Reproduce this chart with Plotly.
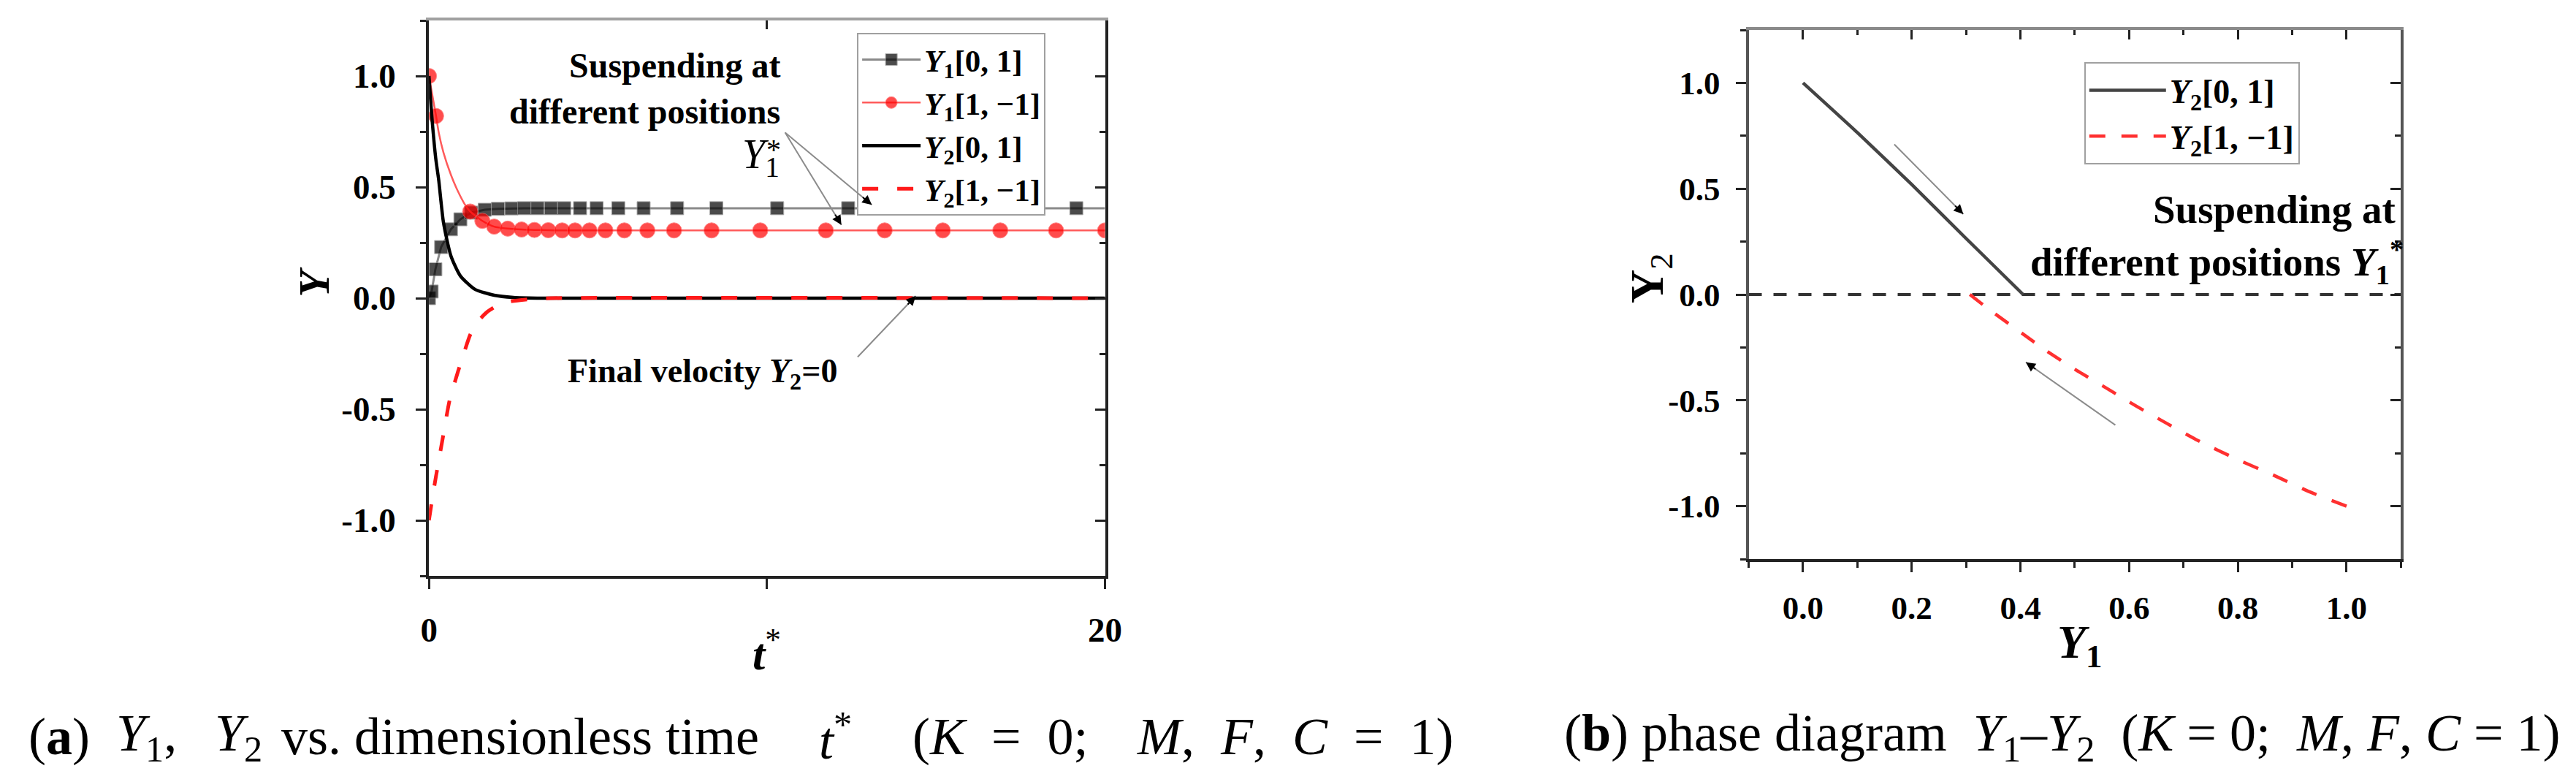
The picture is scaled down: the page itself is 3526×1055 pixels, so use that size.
import plotly.graph_objects as go

W, H = 3526, 1055
SERIF = "Liberation Serif"

# ---------------- panel (a): Y1, Y2 vs dimensionless time t* ----------------
# Y1[0,1]  (black squares on a grey line)
T_Y1_01 = [0, 0.08, 0.19, 0.36, 0.65, 0.93, 1.25, 1.65, 2.04, 2.44, 2.82, 3.21, 3.61,
           4.0, 4.47, 4.96, 5.6, 6.35, 7.34, 8.5, 10.3, 12.4, 13.9, 15.3, 17.1, 19.15]
Y1_01 = [0.0, 0.03, 0.13, 0.23, 0.31, 0.355, 0.385, 0.398, 0.402, 0.404, 0.405, 0.405, 0.405,
         0.405, 0.405, 0.405, 0.405, 0.405, 0.405, 0.405, 0.405, 0.405, 0.405, 0.405, 0.405, 0.405]
T_Y1_01_LINE = [20.0]          # line runs on past the last marker
Y1_01_LINE = [0.405]

# Y1[1,-1]  (red circles on a thin red line)
T_Y1_10 = [0, 0.21, 1.22, 1.58, 1.93, 2.33, 2.74, 3.12, 3.53, 3.94, 4.32, 4.75, 5.22, 5.78,
           6.46, 7.25, 8.36, 9.8, 11.74, 13.48, 15.2, 16.9, 18.55, 20.0]
Y1_10 = [1.0, 0.82, 0.39, 0.348, 0.322, 0.313, 0.309, 0.307, 0.306, 0.305, 0.305, 0.305, 0.305,
         0.305, 0.305, 0.305, 0.305, 0.305, 0.305, 0.305, 0.305, 0.305, 0.305, 0.305]
T_Y1_10_LINE = [0.29, 0.43, 0.65, 0.86, 1.05]   # where the line bends between markers
Y1_10_LINE = [0.745, 0.655, 0.555, 0.48, 0.425]

# Y2[0,1]  (solid black)
T_Y2_01 = [0, 0.05, 0.1, 0.2, 0.29, 0.43, 0.65, 0.93, 1.36, 1.93, 2.5, 3.2, 20.0]
Y2_01 = [1.0, 0.89, 0.79, 0.63, 0.53, 0.34, 0.19, 0.1, 0.04, 0.013, 0.003, 0.0, 0.0]

# Y2[1,-1]  (red dashed)
T_Y2_10 = [0, 0.1, 0.21, 0.42, 0.61, 0.86, 1.05, 1.22, 1.45, 1.7, 2.0, 2.4, 3.0, 3.6, 20.0]
Y2_10 = [-1.0, -0.9, -0.8, -0.62, -0.46, -0.33, -0.24, -0.165, -0.105, -0.065, -0.035,
         -0.015, -0.004, 0.0, 0.0]

# ---------------- panel (b): phase diagram Y1-Y2 ----------------
PH_Y1_01 = [0.0, 0.1, 0.2, 0.3, 0.405]
PH_Y2_01 = [1.0, 0.765, 0.52, 0.265, 0.0]
PH_Y1_10 = [0.307, 0.35, 0.404, 0.45, 0.502, 0.56, 0.613, 0.67, 0.723, 0.8, 0.867, 0.93, 1.0]
PH_Y2_10 = [0.0, -0.085, -0.185, -0.27, -0.356, -0.445, -0.527, -0.61, -0.685, -0.78,
            -0.855, -0.93, -1.0]

# ---------------- ticks ----------------
A_XTICKS = [0, 10, 20]
A_XTEXT = ["0", "", "20"]
Y_TICKS = [-1.0, -0.5, 0.0, 0.5, 1.0]
Y_TEXT = ["-1.0", "-0.5", "0.0", "0.5", "1.0"]
Y_MINOR = [-1.25, -0.75, -0.25, 0.25, 0.75, 1.25]
B_XTICKS = [0.0, 0.2, 0.4, 0.6, 0.8, 1.0]
B_XTEXT = ["0.0", "0.2", "0.4", "0.6", "0.8", "1.0"]
B_XMINOR = [-0.1, 0.1, 0.3, 0.5, 0.7, 0.9, 1.1]


def dom_x(left, right):
    return [left / W, right / W]


def dom_y(top, bottom):
    return [1 - bottom / H, 1 - top / H]


def merge(t_mark, v_mark, t_line, v_line, size):
    pts = [(t, v, size) for t, v in zip(t_mark, v_mark)]
    pts += [(t, v, 0) for t, v in zip(t_line, v_line)]
    pts.sort()
    return [p[0] for p in pts], [p[1] for p in pts], [p[2] for p in pts]


fig = go.Figure()

t, v, s = merge(T_Y1_01, Y1_01, T_Y1_01_LINE, Y1_01_LINE, 18)
fig.add_trace(go.Scatter(
    x=t, y=v, mode="lines+markers", name="<b><i>Y</i><sub>1</sub>[0, 1]</b>",
    line=dict(color="#8a8a8a", width=3),
    marker=dict(symbol="square", size=s, color="black"),
))
t, v, s = merge(T_Y1_10, Y1_10, T_Y1_10_LINE, Y1_10_LINE, 21)
fig.add_trace(go.Scatter(
    x=t, y=v, mode="lines+markers", name="<b><i>Y</i><sub>1</sub>[1, \u22121]</b>",
    line=dict(color="#ff5a5a", width=2.5, shape="spline", smoothing=0.6),
    marker=dict(symbol="circle", size=s, color="#ff0000"),
))
fig.add_trace(go.Scatter(
    x=T_Y2_01, y=Y2_01, mode="lines", name="<b><i>Y</i><sub>2</sub>[0, 1]</b>",
    line=dict(color="black", width=4.5, shape="spline", smoothing=0.6),
))
fig.add_trace(go.Scatter(
    x=T_Y2_10, y=Y2_10, mode="lines", name="<b><i>Y</i><sub>2</sub>[1, \u22121]</b>",
    line=dict(color="#ff1a1a", width=5, dash="22px,26px", shape="spline", smoothing=0.6),
))

fig.add_trace(go.Scatter(
    x=PH_Y1_01, y=PH_Y2_01, mode="lines", name="<b><i>Y</i><sub>2</sub>[0, 1]</b>",
    line=dict(color="#444444", width=4.5, shape="spline", smoothing=0.5),
    xaxis="x2", yaxis="y2", legend="legend2",
))
fig.add_trace(go.Scatter(
    x=PH_Y1_10, y=PH_Y2_10, mode="lines", name="<b><i>Y</i><sub>2</sub>[1, \u22121]</b>",
    line=dict(color="#ff3030", width=4.5, dash="22px,22px", shape="spline", smoothing=0.6),
    xaxis="x2", yaxis="y2", legend="legend2",
))

# empty traces so the mirrored frame axes (inside ticks) get drawn
for xa, ya in [("x3", "y"), ("x", "y3"), ("x4", "y2"), ("x2", "y4")]:
    fig.add_trace(go.Scatter(x=[], y=[], xaxis=xa, yaxis=ya, showlegend=False,
                             hoverinfo="skip"))

TICKFONT = dict(family=SERIF, size=47, color="black", weight="bold")
DARK = "#222222"

base = dict(showgrid=False, zeroline=False, showline=True, linewidth=4, tickwidth=3,
            tickcolor=DARK)

fig.update_layout(
    xaxis=dict(base, domain=dom_x(573, 1508), range=[0, 20], anchor="y", linecolor=DARK,
               ticks="outside", ticklen=14, tickvals=A_XTICKS, ticktext=A_XTEXT,
               tickfont=TICKFONT, ticklabelstandoff=16),
    xaxis3=dict(base, overlaying="x", side="top", anchor="y", range=[0, 20],
                linecolor="#a0a0a0", ticks="inside", ticklen=12, tickvals=[10],
                showticklabels=False),
    yaxis=dict(base, domain=dom_y(20, 780), range=[-1.25, 1.25], anchor="x", linecolor=DARK,
               ticks="outside", ticklen=14, tickvals=Y_TICKS, ticktext=Y_TEXT,
               tickfont=TICKFONT, ticklabelstandoff=18,
               minor=dict(ticks="outside", ticklen=8, tickwidth=3, tickcolor=DARK,
                          tickvals=Y_MINOR)),
    yaxis3=dict(base, overlaying="y", side="right", anchor="x", range=[-1.25, 1.25],
                linecolor=DARK, ticks="inside", ticklen=14, tickvals=Y_TICKS,
                showticklabels=False,
                minor=dict(ticks="inside", ticklen=8, tickwidth=3, tickcolor=DARK,
                           tickvals=Y_MINOR)),
    xaxis2=dict(base, domain=dom_x(2398, 3300), range=[-0.1, 1.1], anchor="y2",
                linecolor=DARK, ticks="outside", ticklen=14, tickvals=B_XTICKS,
                ticktext=B_XTEXT, tickfont=dict(TICKFONT, size=45), ticklabelstandoff=10,
                minor=dict(ticks="outside", ticklen=8, tickwidth=3, tickcolor=DARK,
                           tickvals=B_XMINOR)),
    xaxis4=dict(base, overlaying="x2", side="top", anchor="y2", range=[-0.1, 1.1],
                linecolor="#8a8a8a", ticks="inside", ticklen=13, tickvals=B_XTICKS,
                showticklabels=False,
                minor=dict(ticks="inside", ticklen=7, tickwidth=3, tickcolor=DARK,
                           tickvals=B_XMINOR)),
    yaxis2=dict(base, domain=dom_y(33, 757), range=[-1.25, 1.25], anchor="x2",
                linecolor="#555555", ticks="outside", ticklen=14, tickvals=Y_TICKS,
                ticktext=Y_TEXT, tickfont=dict(TICKFONT, size=45), ticklabelstandoff=12,
                minor=dict(ticks="outside", ticklen=8, tickwidth=3, tickcolor=DARK,
                           tickvals=Y_MINOR)),
    yaxis4=dict(base, overlaying="y2", side="right", anchor="x2", range=[-1.25, 1.25],
                linecolor="#555555", ticks="inside", ticklen=14, tickvals=Y_TICKS,
                showticklabels=False,
                minor=dict(ticks="inside", ticklen=8, tickwidth=3, tickcolor=DARK,
                           tickvals=Y_MINOR)),
    legend=dict(x=1165 / W, y=1 - 37 / H, xanchor="left", yanchor="top", bgcolor="white",
                bordercolor="#a0a0a0", borderwidth=2, itemwidth=80, tracegroupgap=0,
                font=dict(family=SERIF, size=43, color="black")),
    legend2=dict(x=2862 / W, y=1 - 77 / H, xanchor="left", yanchor="top", bgcolor="white",
                 bordercolor="#a0a0a0", borderwidth=2, itemwidth=105, tracegroupgap=0,
                 font=dict(family=SERIF, size=46, color="black")),
    width=W, height=H, autosize=False,
    margin=dict(l=0, r=0, t=0, b=0),
    paper_bgcolor="white", plot_bgcolor="white",
    font=dict(family=SERIF, color="black"),
)

# Y2 = 0 reference line in the phase diagram
fig.add_shape(type="line", xref="x2 domain", yref="y2", x0=0, x1=1, y0=0, y1=0,
              line=dict(color="#333333", width=4, dash="18px,16px"), layer="below")


def text(px, py, s, size, xanchor="center", yanchor="middle", angle=0, bold=False):
    if bold:
        s = "<b>" + s + "</b>"
    fig.add_annotation(x=px / W, y=1 - py / H, xref="paper", yref="paper", text=s,
                       showarrow=False, xanchor=xanchor, yanchor=yanchor, textangle=angle,
                       font=dict(family=SERIF, size=size, color="black"))


def arrow(xref, yref, x, y, dx, dy):
    # grey shaft with a short black head at (x, y); dx, dy = tail offset in px
    fig.add_annotation(x=x, y=y, xref=xref, yref=yref, ax=dx, ay=dy, text="",
                       showarrow=True, arrowhead=0, arrowwidth=2, arrowcolor="#8c8c8c")
    n = (dx * dx + dy * dy) ** 0.5
    fig.add_annotation(x=x, y=y, xref=xref, yref=yref, ax=dx * 18 / n, ay=dy * 18 / n,
                       text="", showarrow=True, arrowhead=2, arrowsize=1.3, arrowwidth=2,
                       arrowcolor="black")


# panel (a) notes
text(1061, 81, "Suspending at", 48, xanchor="right", bold=True)
text(1061, 145, "different positions", 48, xanchor="right", bold=True)
text(1004, 207, "<i>Y</i><sub>1</sub>", 56, xanchor="left")
text(1050, 196, "*", 40)
arrow("x", "y", 13.1, 0.42, -120, -100)
arrow("x", "y", 12.2, 0.33, -78, -128)
text(763, 503, "Final velocity <i>Y</i><sub>2</sub>=0", 46, xanchor="left", bold=True)
arrow("x", "y", 14.4, 0.01, -81, 85)

# panel (b) notes
text(2955, 279, "Suspending at", 55, xanchor="left", bold=True)
text(2785, 350, "different positions <i>Y</i><sub>1</sub><sup>*</sup>", 55, xanchor="left",
     bold=True)
arrow("x2", "y2", 0.295, 0.38, -96, -97)
arrow("x2", "y2", 0.41, -0.32, 124, 87)

# axis titles
text(414, 378, "<b><i>Y</i></b>", 60, angle=-90)
text(1040, 882, "<b><i>t</i></b><sup>*</sup>", 62)
text(2262, 372, "<b>Y</b><sub>2</sub>", 64, angle=-90)
text(2856, 875, "<b><i>Y</i><sub>1</sub></b>", 64)

# captions, placed piece by piece like the justified original
NB = "\u00a0"
CAP = 72
for px, s in [
    (17, "(<b>a</b>)"),
    (138, "<i>Y</i><sub>1</sub>,"),
    (275, "<i>Y</i><sub>2</sub>"),
    (367, "vs. dimensionless time"),
    (1110, "<i>t</i><sup>*</sup>"),
    (1240, "(<i>K</i>" + NB * 2 + "=" + NB * 2 + "0;"),
    (1550, "<i>M</i>," + NB * 2 + "<i>F</i>," + NB * 2 + "<i>C</i>" + NB * 2 + "=" + NB * 2
     + "1)"),
]:
    text(px, 1000, s, CAP, xanchor="left")

text(2141, 1000, "(<b>b</b>)" + NB + "phase diagram" + NB * 2
     + "<i>Y</i><sub>1</sub>\u2013<i>Y</i><sub>2</sub>" + NB * 2 + "(<i>K</i> = 0;" + NB * 2
     + "<i>M</i>, <i>F</i>, <i>C</i> = 1)", CAP, xanchor="left")

fig.write_html("out.html")
